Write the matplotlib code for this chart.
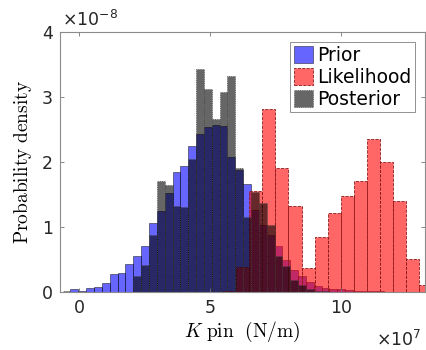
import numpy as np
import matplotlib
matplotlib.use('Agg')
import matplotlib.pyplot as plt

# densities in units of 1e-8, K pin in units of 1e7 N/m
prior_start, prior_width = -0.33, 0.3
prior = [0.04, 0.02, 0.06, 0.07, 0.14, 0.28, 0.29, 0.43, 0.56, 0.71,
         1.06, 1.25, 1.53, 1.84, 1.94, 2.25, 2.43, 2.54, 2.57, 2.56,
         2.08, 1.88, 1.66, 1.26, 1.03, 0.88, 0.71, 0.50, 0.34, 0.24,
         0.15, 0.09, 0.06, 0.05, 0.04, 0.03, 0.02, 0.02, 0.01, 0.01]

post_start, post_width = -0.63, 0.3
posterior = [0.015, 0, 0, 0, 0, 0, 0, 0, 0, 0.25,
             0.42, 0.88, 1.71, 1.64, 1.32, 1.31, 2.05, 3.43, 3.12, 2.66,
             3.07, 3.33, 1.91, 1.16, 1.54, 1.37, 1.03, 0.55, 0.40, 0.18,
             0.11, 0.05, 0.02, 0.01]

like_start, like_width = 5.5, 0.5
likelihood = [0.01, 0.39, 1.56, 2.81, 1.91, 1.32, 0.37, 0.85, 1.21, 1.48,
              1.71, 2.35, 2.00, 1.40, 0.51, 0.11]

x_ticks = [0, 5, 10]
y_ticks = [0, 1, 2, 3, 4]


def left_edges(start, width, n):
    return start + width * np.arange(n)


fig = plt.figure(figsize=(4.26, 3.5), dpi=100)
ax = fig.add_axes([60/426, 1 - 292/350, 365/426, 260/350])

ax.bar(left_edges(prior_start, prior_width, len(prior)), prior, width=prior_width,
       align='edge', color=(0, 0, 1, 0.6), edgecolor=(0, 0, 0, 0.8), linewidth=0.4,
       label='Prior')
ax.bar(left_edges(like_start, like_width, len(likelihood)), likelihood, width=like_width,
       align='edge', color=(1, 0, 0, 0.6), edgecolor=(0.55, 0.1, 0.1), linewidth=0.6,
       linestyle='--', label='Likelihood')
ax.bar(left_edges(post_start, post_width, len(posterior)), posterior, width=post_width,
       align='edge', color=(0, 0, 0, 0.6), edgecolor=(0.3, 0.3, 0.3), linewidth=0.6,
       linestyle=':', label='Posterior')

ax.set_xlim(-0.73, 13.22)
ax.set_ylim(0, 4)
ax.set_xticks(x_ticks)
ax.set_yticks(y_ticks)
ax.tick_params(direction='in', length=3, width=0.6, top=True, right=True,
               labelsize=12.5, colors='0.45', labelcolor='0.15', pad=5)
for s in ax.spines.values():
    s.set_color('0.55')
    s.set_linewidth(0.8)

ax.set_ylabel(r'$\mathrm{Probability\ density}$', fontsize=14,
              math_fontfamily='cm', labelpad=6)
ax.set_xlabel(r'$K\ \mathrm{pin}\ \ (\mathrm{N/m})$', fontsize=14,
              math_fontfamily='cm', labelpad=2)

fig.text(62/426, 1 - 26/350, r'$\times10^{-8}$', fontsize=12.5, color='0.15')
fig.text(376/426, 1 - 346/350, r'$\times10^{7}$', fontsize=12.5, color='0.15',
         va='baseline')

leg = ax.legend(loc='upper right', fontsize=13.5, fancybox=False, framealpha=1,
                edgecolor='0.5', borderaxespad=0.55, borderpad=0.2,
                labelspacing=0.15, handlelength=1.0, handleheight=1.0,
                handletextpad=0.2)
leg.get_frame().set_linewidth(0.6)

fig.savefig('out.png', dpi=100)
